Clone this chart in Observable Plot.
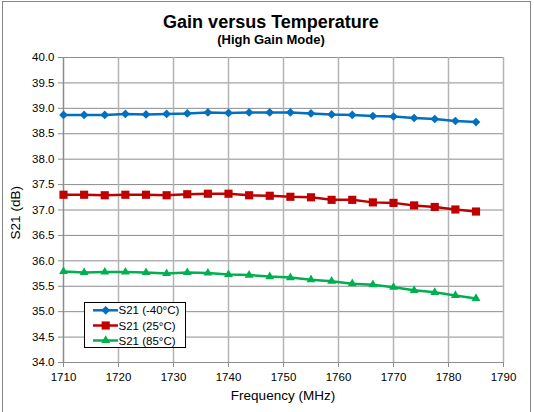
<!DOCTYPE html>
<html>
<head>
<meta charset="utf-8">
<script src="https://cdn.jsdelivr.net/npm/d3@7"></script>
<script src="https://cdn.jsdelivr.net/npm/@observablehq/plot@0.6"></script>
<style>
  html, body { margin: 0; padding: 0; background: #fff; }
  #wrap { position: relative; width: 534px; height: 412px; overflow: hidden; font-family: "Liberation Sans", Arial, sans-serif; }
  #frame { position: absolute; left: 2px; top: 1px; width: 529px; height: 500px; border: 1px solid #868686; box-sizing: border-box; }
  .t { position: absolute; white-space: nowrap; color: #000; }
  #plot { position: absolute; left: 0; top: 0; }
  #legend { position: absolute; left: 84px; top: 302px; }
</style>
</head>
<body>
<div id="wrap">
  <div id="frame"></div>
  <div id="plot"></div>
  <div class="t" id="title" style="left:0;width:542px;text-align:center;top:14.1px;font-size:18px;line-height:16px;font-weight:bold;">Gain versus Temperature</div>
  <div class="t" id="subtitle" style="left:0;width:542px;text-align:center;top:33.5px;font-size:13px;line-height:12.5px;font-weight:bold;">(High Gain Mode)</div>
  <div class="t" id="xlabel" style="left:183px;width:200px;text-align:center;top:389px;font-size:13.5px;line-height:13.5px;">Frequency (MHz)</div>
  <div class="t" id="ylabel" style="left:-84.5px;width:200px;text-align:center;top:206.3px;font-size:13.5px;line-height:13.5px;transform:rotate(-90deg);">S21 (dB)</div>
  <div id="legend"></div>
</div>
<script>
// ---- data ----
const freq = [1710, 1713.75, 1717.5, 1721.25, 1725, 1728.75, 1732.5, 1736.25, 1740, 1743.75, 1747.5,
              1751.25, 1755, 1758.75, 1762.5, 1766.25, 1770, 1773.75, 1777.5, 1781.25, 1785];
const s21_m40 = [38.87, 38.87, 38.87, 38.89, 38.88, 38.89, 38.90, 38.92, 38.91, 38.92, 38.92,
                 38.92, 38.90, 38.88, 38.87, 38.85, 38.84, 38.81, 38.79, 38.75, 38.73];
const s21_25  = [37.30, 37.30, 37.29, 37.30, 37.30, 37.29, 37.31, 37.32, 37.32, 37.29, 37.28,
                 37.26, 37.25, 37.20, 37.20, 37.15, 37.14, 37.09, 37.06, 37.01, 36.97];
const s21_85  = [35.79, 35.77, 35.78, 35.78, 35.77, 35.75, 35.77, 35.76, 35.73, 35.72, 35.69,
                 35.67, 35.63, 35.60, 35.55, 35.53, 35.48, 35.42, 35.38, 35.32, 35.26];
const seriesNames = ["S21 (-40°C)", "S21 (25°C)", "S21 (85°C)"];
const seriesColors = ["#0070C0", "#C00000", "#00B050"];
const seriesSymbols = ["diamond2", "square", "triangle"];
const seriesR = [3.9, 4.6, 3.3];
const xTicks = [1710, 1720, 1730, 1740, 1750, 1760, 1770, 1780, 1790];
const yTicks = [34.0, 34.5, 35.0, 35.5, 36.0, 36.5, 37.0, 37.5, 38.0, 38.5, 39.0, 39.5, 40.0];

const seriesValues = [s21_m40, s21_25, s21_85];
const rows = [];
seriesValues.forEach((vals, si) => vals.forEach((v, i) => rows.push({ f: freq[i], v, s: seriesNames[si] })));

const marks = [
  Plot.gridY(yTicks, { stroke: "#8c8c8c", strokeOpacity: 1, strokeWidth: 1 }),
  Plot.gridX(xTicks, { stroke: "#b4b4b4", strokeOpacity: 1, strokeWidth: 1.5 }),
  Plot.axisY(yTicks, { tickSize: 5, tickPadding: 4, tickFormat: d3.format(".1f"), stroke: "#8c8c8c", label: null }),
  Plot.axisX(xTicks, { tickSize: 5, tickPadding: 5, tickFormat: d => String(d), stroke: "#8c8c8c", label: null }),
  Plot.ruleY([34], { stroke: "#8c8c8c", strokeWidth: 1.2 }),
  Plot.ruleX([1710], { stroke: "#8c8c8c", strokeWidth: 1.2 })
];
seriesNames.forEach((name, si) => {
  const data = rows.filter(d => d.s === name);
  marks.push(Plot.line(data, { x: "f", y: "v", stroke: seriesColors[si], strokeWidth: 2.5 }));
  marks.push(Plot.dot(data, { x: "f", y: "v", fill: seriesColors[si], stroke: "none", symbol: seriesSymbols[si], r: seriesR[si] }));
});

const chart = Plot.plot({
  width: 534,
  height: 412,
  marginLeft: 63,
  marginRight: 31,
  marginTop: 57,
  marginBottom: 50,
  x: { domain: [1710, 1790] },
  y: { domain: [34, 40] },
  style: { fontFamily: "'Liberation Sans', Arial, sans-serif", fontSize: "11.5px", color: "#000", background: "transparent", overflow: "visible" },
  marks
});
document.getElementById("plot").appendChild(chart);

// ---- legend ----
const lg = d3.select("#legend").append("svg").attr("width", 103).attr("height", 47)
  .style("font-family", "'Liberation Sans', Arial, sans-serif").style("font-size", "11.5px");
lg.append("rect").attr("x", 0.5).attr("y", 0.5).attr("width", 101).attr("height", 45)
  .attr("fill", "#fff").attr("stroke", "#000").attr("stroke-width", 1);
const rowY = [8.3, 23.5, 38.5];
const symMap = { diamond2: d3.symbolDiamond2, square: d3.symbolSquare, triangle: d3.symbolTriangle };
seriesNames.forEach((name, si) => {
  const g = lg.append("g").attr("transform", `translate(0,${rowY[si]})`);
  g.append("line").attr("x1", 9).attr("x2", 34).attr("y1", 0).attr("y2", 0)
    .attr("stroke", seriesColors[si]).attr("stroke-width", 2.5);
  g.append("path").attr("transform", "translate(21.7,0)")
    .attr("d", d3.symbol(symMap[seriesSymbols[si]], Math.PI * seriesR[si] * seriesR[si])())
    .attr("fill", seriesColors[si]);
  g.append("text").attr("x", 34.5).attr("y", 4.1).attr("fill", "#000").text(name);
});
</script>
</body>
</html>
